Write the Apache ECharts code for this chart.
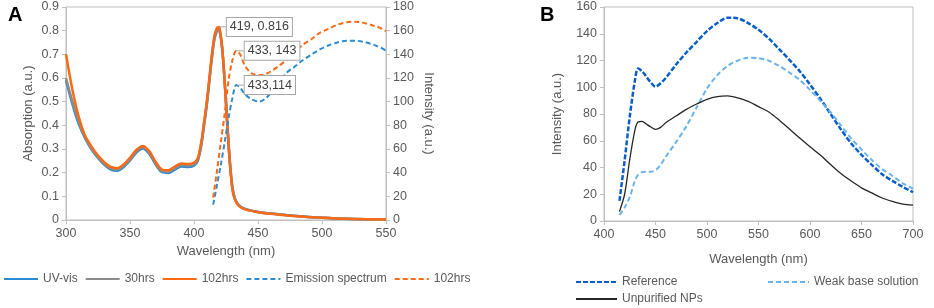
<!DOCTYPE html>
<html>
<head>
<meta charset="utf-8">
<script src="https://cdn.jsdelivr.net/npm/echarts@6/dist/echarts.min.js"></script>
<style>
html,body{margin:0;padding:0;background:#fff;}
#charts{width:934px;height:308px;}
</style>
</head>
<body>
<div id="charts"></div>
<script>
// panel A - absorption (left axis)
var absWl = [300,305,310,315,320,325,330,335,340,345,350,355,360,365,370,375,380,385,390,395,400,
	403,406,408,410,412,414,416,418,419,420,422,424,426,428,430,432,435,440,450,460,475,500,525,550];
var uvVis = [0.59,0.49,0.405,0.345,0.298,0.262,0.233,0.213,0.208,0.224,0.252,0.285,0.302,0.28,0.235,0.202,0.199,0.213,0.226,0.224,0.23,
	0.25,0.325,0.405,0.485,0.585,0.685,0.765,0.80,0.805,0.80,0.725,0.585,0.41,0.25,0.14,0.09,0.063,0.047,0.034,0.027,0.019,0.009,0.004,0.002];
var abs30hrs = [0.60,0.50,0.415,0.35,0.301,0.266,0.237,0.218,0.213,0.229,0.257,0.29,0.307,0.285,0.24,0.207,0.204,0.219,0.232,0.23,0.235,
	0.255,0.332,0.412,0.492,0.592,0.692,0.772,0.806,0.81,0.805,0.728,0.58,0.405,0.245,0.135,0.088,0.062,0.046,0.034,0.027,0.019,0.009,0.004,0.002];
var abs102hrs = [0.70,0.55,0.435,0.355,0.31,0.272,0.243,0.224,0.219,0.235,0.263,0.296,0.313,0.291,0.246,0.213,0.21,0.226,0.239,0.237,0.242,
	0.262,0.34,0.42,0.50,0.60,0.70,0.78,0.812,0.816,0.81,0.73,0.58,0.40,0.24,0.13,0.085,0.06,0.045,0.033,0.026,0.018,0.009,0.004,0.002];

// panel A - emission (right axis)
var emWl = [415,418,421,424,427,430,433,436,440,445,451,455,460,466,472,479,485,492,498,505,512,519,526,532,538,543,547,550];
var emission = [13,30,47,66,86,103,114,112,106,102,100,102,107,115,124,130,135,140,144,147.5,150,151.5,151.5,150.7,149,147,145,143];
var em102hrs = [19,42,66,90,118,135,143,140,130,124,122.5,123,125.5,130,135,142,148,153,158,161.5,165,167,167.6,166.8,165,163.4,161.5,159.5];

// callouts
var peakAbsX = 419, peakAbsText = '419, 0.816';
var peakEm102X = 433, peakEm102Text = '433, 143';
var peakEmX = 433, peakEmText = '433,114';

// panel B
var bWl = [415,420,425,430,433,437,441,445,450,455,460,470,480,490,500,510,520,530,540,550,560,570,580,590,600,610,620,630,640,650,660,670,680,690,700];
var reference = [15,45,78,105,114,112,108,104,100.5,103,107,117,126,134,142,148,152,151.5,148,143,136.5,128.5,120.5,112,102,91.5,80,68.5,58,49.5,42,35,30,25.5,21.5];
var weakBase = [4.5,10,18,30,34.5,36.5,36.8,36.8,38,42,48,59,71,85,99,109,116,120,122,121.8,119.8,116,111,105.5,98,89.8,81.3,71.5,61.8,53.4,45.6,38.8,33.8,28.2,24.3];
var unpurified = [7,20,46,68,74,74.5,72.5,70.5,68.5,70,73.5,78.5,83.5,87.5,91,93,93.5,92,89.5,85.5,81.5,75.5,68.8,62,55.5,49.3,42.2,35.5,29.9,24.8,21,17.2,14.6,12.6,11.8];

var textColor = '#595959';
var axisColor = '#bfbfbf';
var fontFamily = 'Liberation Sans, Arial, sans-serif';

function pairs(xs, ys, calloutX, calloutText){
	var out = [];
	for (var i = 0; i < xs.length; i++) {
		var item = {value: [xs[i], ys[i]]};
		if (calloutX !== undefined && xs[i] === calloutX) {
			// a tiny symbol so the label gets drawn
			item.symbol = 'circle';
			item.symbolSize = 1;
			item.label = {
				show: true,
				position: 'right',
				distance: 2,
				formatter: calloutText,
				color: '#404040',
				fontSize: 12.5,
				fontFamily: fontFamily,
				backgroundColor: '#fff',
				borderColor: '#a6a6a6',
				borderWidth: 1,
				padding: [3, 3, 2, 3]
			};
			item.labelLine = {show: true, lineStyle: {color: '#a6a6a6', width: 1}};
		}
		out.push(item);
	}
	return out;
}

function valueAxis(opt){
	var axis = {
		type: 'value',
		axisLine: {show: true, lineStyle: {color: axisColor}},
		axisTick: {show: true, length: 4, lineStyle: {color: axisColor}},
		axisLabel: {color: textColor, fontSize: 12.5, fontFamily: fontFamily, margin: 7},
		splitLine: {show: false},
		nameLocation: 'middle',
		nameTextStyle: {color: textColor, fontSize: 13, fontFamily: fontFamily}
	};
	for (var k in opt) axis[k] = opt[k];
	return axis;
}

function lineSeries(name, xIdx, yIdx, data, color, width, dash){
	return {
		name: name,
		type: 'line',
		xAxisIndex: xIdx,
		yAxisIndex: yIdx,
		data: data,
		symbol: 'none',
		smooth: 0.3,
		animation: false,
		lineStyle: {color: color, width: width, type: dash || 'solid'},
		itemStyle: {color: color},
		labelLayout: {dx: 6, dy: 0}
	};
}

function legendAt(left, top, names, width, gap){
	return {
		left: left, top: top, padding: 0,
		itemWidth: width, itemHeight: 12, itemGap: gap || 7,
		itemStyle: {opacity: 0},
		data: names,
		formatter: function(name){ return name.trim(); },
		textStyle: {color: textColor, fontSize: 12, fontFamily: fontFamily}
	};
}

var orange = '#fa6a16';
var blueA = '#2b8bd3';

var options = {
	textStyle: {fontFamily: fontFamily},
	title: [
		{text: 'A', left: 3, top: 0, textStyle: {fontSize: 20, fontWeight: 'bold', color: '#000'}},
		{text: 'B', left: 535, top: 0, textStyle: {fontSize: 20, fontWeight: 'bold', color: '#000'}}
	],
	grid: [
		{left: 66, right: 548, top: 7, bottom: 88, show: true, borderColor: axisColor, borderWidth: 1},
		{left: 604, right: 21, top: 7, bottom: 87, show: true, borderColor: axisColor, borderWidth: 1}
	],
	xAxis: [
		valueAxis({gridIndex: 0, min: 300, max: 550, interval: 50, name: 'Wavelength (nm)', nameGap: 22}),
		valueAxis({gridIndex: 1, min: 400, max: 700, interval: 50, name: 'Wavelength (nm)', nameGap: 32})
	],
	yAxis: [
		valueAxis({gridIndex: 0, min: 0, max: 0.9, interval: 0.1, name: 'Absorption (a.u.)', nameGap: 31}),
		valueAxis({gridIndex: 0, min: 0, max: 180, interval: 20, position: 'right', name: 'Intensity (a.u.)', nameGap: 36, nameRotate: -90}),
		valueAxis({gridIndex: 1, min: 0, max: 160, interval: 20, name: 'Intensity (a.u.)', nameGap: 40})
	],
	legend: [
		legendAt(3, 273, ['UV-vis', '30hrs', '102hrs', 'Emission spectrum', '102hrs '], 34),
		legendAt(575, 276, ['Reference'], 41),
		legendAt(767, 276, ['Weak base solution'], 41),
		legendAt(575, 293, ['Unpurified NPs'], 41)
	],
	series: [
		lineSeries('UV-vis', 0, 0, pairs(absWl, uvVis), blueA, 2.5),
		lineSeries('30hrs', 0, 0, pairs(absWl, abs30hrs), '#8c8c8c', 2.5),
		lineSeries('102hrs', 0, 0, pairs(absWl, abs102hrs, peakAbsX, peakAbsText), orange, 2.5),
		lineSeries('Emission spectrum', 0, 1, pairs(emWl, emission, peakEmX, peakEmText), blueA, 2, [5, 3]),
		lineSeries('102hrs ', 0, 1, pairs(emWl, em102hrs, peakEm102X, peakEm102Text), orange, 2, [5, 3]),
		lineSeries('Reference', 1, 2, pairs(bWl, reference), '#0b5ec9', 2.5, [5, 2]),
		lineSeries('Weak base solution', 1, 2, pairs(bWl, weakBase), '#6ab3ea', 2, [5, 3]),
		lineSeries('Unpurified NPs', 1, 2, pairs(bWl, unpurified), '#262626', 1.3)
	]
};

var charts = echarts.init(document.getElementById('charts'));
charts.setOption(options);
</script>
</body>
</html>
